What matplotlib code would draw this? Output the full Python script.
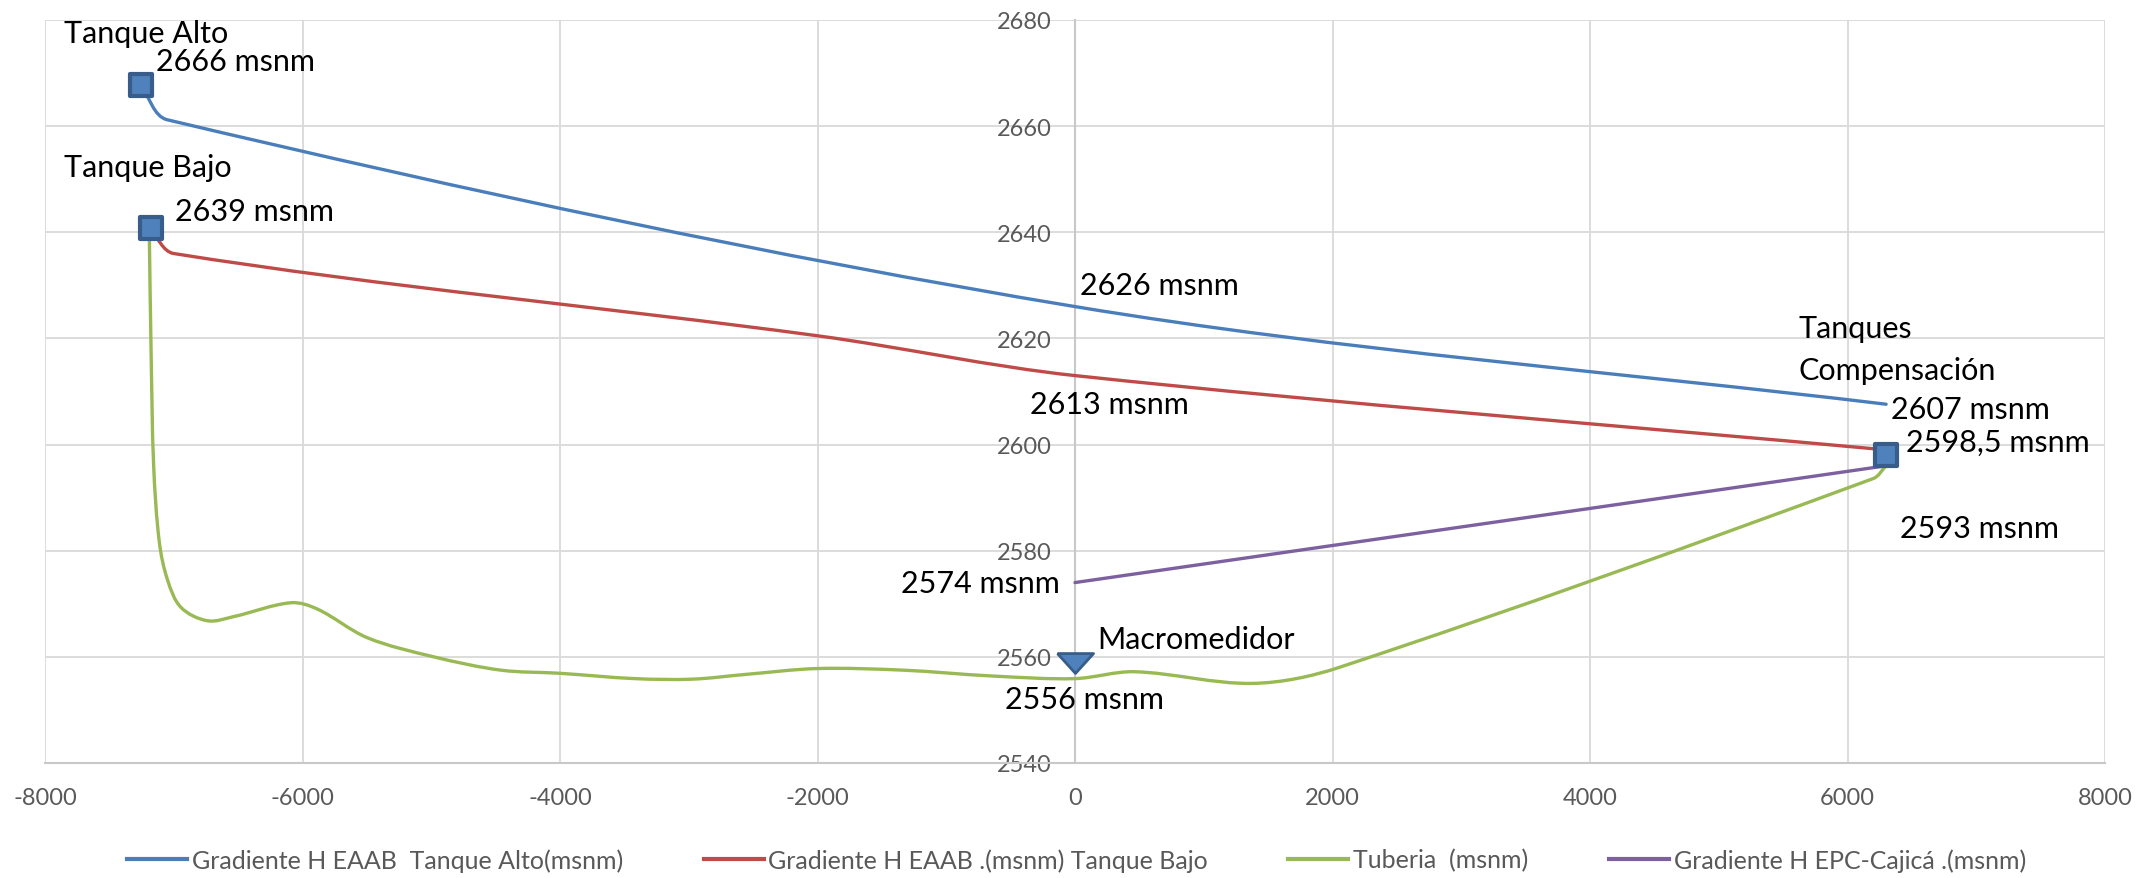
import numpy as np
import matplotlib
matplotlib.use("Agg")
import matplotlib.pyplot as plt
from matplotlib.path import Path
from matplotlib.patches import PathPatch
from matplotlib.lines import Line2D
from matplotlib.markers import MarkerStyle

plt.rcParams['font.family'] = ['Lato', 'DejaVu Sans']
plt.rcParams['axes.unicode_minus'] = False

# series (distance in m, elevation in msnm)
alto_x = [-7255, -7050, 0, 6300]
alto_y = [2667.7, 2661.2, 2626, 2607.6]

bajo_x = [-7180, -7000, -2000, 0, 6300]
bajo_y = [2640.5, 2636, 2620.5, 2613, 2599]

tuberia_x = [-7190, -7176, -7156, -7112, -7047, -6943, -6737, -6532, -6090, -5884,
             -5496, -4980, -4461, -4000, -3421, -2970, -2555, -2000, -1341, -648,
             0, 460, 1380, 2050, 6200, 6300]
tuberia_y = [2640, 2617.5, 2596, 2581.6, 2574.4, 2569.3, 2566.8, 2567.6, 2570.2, 2569,
             2563.6, 2560, 2557.5, 2556.9, 2555.9, 2555.8, 2556.7, 2557.8, 2557.5, 2556.4,
             2555.9, 2557.2, 2555, 2558, 2593.6, 2596]

cajica_x = [0, 6300]
cajica_y = [2574, 2596]

tanques_x = [-7255, -7180, 6300]
tanques_y = [2667.7, 2640.8, 2598]
macro_x = [0]
macro_y = [2558.9]

labels = ["Gradiente H EAAB  Tanque Alto(msnm)", "Gradiente H EAAB .(msnm) Tanque Bajo",
          "Tuberia  (msnm)", "Gradiente H EPC-Cajicá .(msnm)"]
colors = ["#4A7EBB", "#BE4B48", "#98B954", "#7D60A0"]

notes = ["Tanque Alto", "2666 msnm", "Tanque Bajo", "2639 msnm", "2626 msnm", "2613 msnm",
         "2574 msnm", "Macromedidor", "2556 msnm", "Tanques", "Compensación",
         "2607 msnm", "2598,5 msnm", "2593 msnm"]
note_pos = [(-7851, 2675.8, "left"), (-7137, 2670.6, "left"), (-7851, 2650.6, "left"),
            (-6990, 2642.4, "left"), (39, 2628.3, "left"), (-349, 2606, "left"),
            (-116, 2572.3, "right"), (170, 2561.7, "left"), (-543, 2550.4, "left"),
            (5617, 2620.2, "left"), (5617, 2612.4, "left"), (6335, 2605.1, "left"),
            (6452, 2598.9, "left"), (6409, 2582.6, "left")]

# rough px per data unit, so the smoothing works in screen proportions
SX, SY = 0.1289, 5.3


def smooth(x, y, k=0.33):
    # smoothed line like Excel: tangent at each point from its neighbours
    p = np.column_stack([np.asarray(x) * SX, np.asarray(y) * SY])
    n = len(p)
    tang = []
    for i in range(n):
        d = p[min(i + 1, n - 1)] - p[max(i - 1, 0)]
        tang.append(d / np.hypot(*d))
    verts = [p[0]]
    codes = [Path.MOVETO]
    for i in range(n - 1):
        L = np.hypot(*(p[i + 1] - p[i]))
        verts += [p[i] + tang[i] * L * k, p[i + 1] - tang[i + 1] * L * k, p[i + 1]]
        codes += [Path.CURVE4] * 3
    verts = np.array(verts) / [SX, SY]
    return Path(verts, codes)


fig = plt.figure(figsize=(21.53, 8.79), dpi=100)
ax = fig.add_axes([45 / 2153, 1 - 764 / 879, 2060 / 2153, 743 / 879])

for xs, ys, c in zip([alto_x, bajo_x, tuberia_x, cajica_x],
                     [alto_y, bajo_y, tuberia_y, cajica_y], colors):
    ax.add_patch(PathPatch(smooth(xs, ys), fill=False, edgecolor=c, lw=2.4,
                           capstyle="round", joinstyle="round", zorder=3))

ax.plot(tanques_x, tanques_y, ls="none", marker=MarkerStyle("s", joinstyle="round"),
        ms=15.5, mfc="#4F81BD", mec="#385D8A", mew=3, zorder=5)
tri = [(-1, 0.55), (1, 0.55), (0, -0.55), (-1, 0.55)]
ax.plot(macro_x, macro_y, ls="none", marker=MarkerStyle(tri, joinstyle="round"), ms=26,
        mfc="#4F81BD", mec="#385D8A", mew=2, zorder=5)

for s, (x, y, ha) in zip(notes, note_pos):
    ax.text(x, y, s, ha=ha, va="baseline", fontsize=22, color="black", zorder=6)

ax.set_xlim(-8000, 8000)
ax.set_ylim(2540, 2680)
ax.set_xticks(np.arange(-8000, 8001, 2000))
ax.set_yticks(np.arange(2540, 2681, 20))
ax.grid(True, color="#D9D9D9", lw=1.3, zorder=0)
ax.set_axisbelow(True)
for side in ["top", "right"]:
    ax.spines[side].set_visible(False)
ax.spines["left"].set_position(("data", 0))
ax.spines["left"].set_color("#C8C8C8")
ax.spines["bottom"].set_color("#C8C8C8")
ax.spines["left"].set_linewidth(1.5)
ax.spines["bottom"].set_linewidth(1.5)
ax.tick_params(axis="both", length=0, labelsize=17, labelcolor="#595959")
ax.tick_params(axis="y", pad=17)
ax.tick_params(axis="x", pad=17)

handles = [Line2D([], [], color=c, lw=3) for c in colors]
fig.legend(handles, labels, loc="center", bbox_to_anchor=(0.5, 1 - 861 / 879), ncol=4,
           frameon=False, fontsize=18, labelcolor="#595959", handlelength=2.4,
           handletextpad=0.2, columnspacing=3.2)

fig.savefig("out.png", dpi=100)
